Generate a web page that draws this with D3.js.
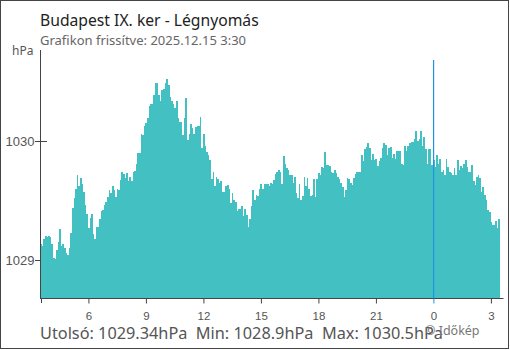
<!DOCTYPE html>
<html>
<head>
<meta charset="utf-8">
<script src="https://cdn.jsdelivr.net/npm/d3@7"></script>
<style>
  body { margin: 0; background: #fff; }
  svg { display: block; font-family: "Noto Sans", "Open Sans", sans-serif; }
</style>
</head>
<body>
<div id="chart"></div>
<script>
var title = 'Budapest IX. ker - Légnyomás';
var subtitle = 'Grafikon frissítve: 2025.12.15 3:30';
var unit = 'hPa';
var startTime = new Date(2025, 11, 14, 3, 30);
var endTime = new Date(2025, 11, 15, 3, 30);
var stepMinutes = 5;
var yTicks = [1029, 1030];
var summary = 'Utolsó: 1029.34hPa  Min: 1028.9hPa  Max: 1030.5hPa';
var credit = '© Időkép';

// légnyomás, 5 percenként
var pressure = [
  1029.13, 1029.12, 1029.18, 1029.20, 1029.19, 1029.20, 1029.19, 1029.13, 1029.02, 1029.01,
  1029.08, 1029.15, 1029.26, 1029.12, 1029.13, 1029.10, 1029.06, 1029.04, 1029.10, 1029.23,
  1029.44, 1029.52, 1029.60, 1029.71, 1029.62, 1029.69, 1029.64, 1029.57, 1029.46, 1029.39,
  1029.27, 1029.35, 1029.39, 1029.22, 1029.18, 1029.28, 1029.28, 1029.34, 1029.41, 1029.42,
  1029.46, 1029.49, 1029.53, 1029.59, 1029.56, 1029.62, 1029.59, 1029.53, 1029.60, 1029.59,
  1029.67, 1029.74, 1029.72, 1029.69, 1029.73, 1029.66, 1029.70, 1029.66, 1029.74, 1029.75,
  1029.81, 1029.90, 1029.90, 1030.06, 1030.05, 1030.13, 1030.15, 1030.19, 1030.29, 1030.31,
  1030.31, 1030.39, 1030.49, 1030.49, 1030.39, 1030.34, 1030.43, 1030.44, 1030.49, 1030.52,
  1030.47, 1030.37, 1030.34, 1030.31, 1030.28, 1030.34, 1030.19, 1030.16, 1030.16, 1030.05,
  1030.19, 1030.36, 1030.01, 1030.06, 1030.14, 1030.11, 1030.06, 1030.12, 1030.13, 1030.13,
  1030.20, 1029.94, 1030.06, 1029.96, 1029.91, 1029.88, 1029.84, 1029.68, 1029.74, 1029.62,
  1029.70, 1029.68, 1029.65, 1029.66, 1029.57, 1029.57, 1029.62, 1029.63, 1029.60, 1029.48,
  1029.56, 1029.50, 1029.49, 1029.41, 1029.43, 1029.43, 1029.45, 1029.37, 1029.43, 1029.38,
  1029.28, 1029.34, 1029.45, 1029.59, 1029.50, 1029.55, 1029.54, 1029.60, 1029.64, 1029.60,
  1029.64, 1029.64, 1029.64, 1029.62, 1029.65, 1029.64, 1029.67, 1029.72, 1029.74, 1029.76,
  1029.74, 1029.64, 1029.87, 1029.81, 1029.77, 1029.76, 1029.71, 1029.71, 1029.65, 1029.70,
  1029.56, 1029.52, 1029.64, 1029.50, 1029.54, 1029.70, 1029.62, 1029.69, 1029.60, 1029.54,
  1029.55, 1029.68, 1029.53, 1029.68, 1029.73, 1029.71, 1029.78, 1029.77, 1029.91, 1029.80,
  1029.80, 1029.79, 1029.74, 1029.73, 1029.76, 1029.73, 1029.70, 1029.68, 1029.65, 1029.61,
  1029.53, 1029.59, 1029.69, 1029.68, 1029.65, 1029.63, 1029.69, 1029.72, 1029.74, 1029.74,
  1029.74, 1029.88, 1029.83, 1029.93, 1029.95, 1029.98, 1029.94, 1029.84, 1029.89, 1029.84,
  1029.85, 1029.79, 1029.83, 1029.86, 1029.94, 1029.98, 1029.97, 1029.88, 1029.94, 1029.95,
  1029.86, 1029.89, 1029.85, 1029.92, 1029.92, 1029.92, 1029.81, 1029.80, 1029.96, 1029.92,
  1029.96, 1029.98, 1029.99, 1029.99, 1030.02, 1030.08, 1030.00, 1030.02, 1030.08, 1029.96,
  1030.03, 1029.93, 1029.81, 1029.93, 1029.93, 1029.80, 1029.84, 1029.78, 1029.88, 1029.81,
  1029.85, 1029.74, 1029.76, 1029.71, 1029.85, 1029.78, 1029.74, 1029.73, 1029.71, 1029.77,
  1029.71, 1029.84, 1029.76, 1029.79, 1029.77, 1029.81, 1029.84, 1029.78, 1029.74, 1029.74,
  1029.80, 1029.66, 1029.63, 1029.70, 1029.71, 1029.69, 1029.57, 1029.61, 1029.55, 1029.50,
  1029.42, 1029.40, 1029.32, 1029.29, 1029.29, 1029.33, 1029.27, 1029.34
];

var W = 510, H = 350;
var plotLeft = 40, plotRight = 500, plotTop = 50, plotBottom = 298;
var barColor = '#42c0c2', axisColor = '#444', textColor = '#555', nowColor = '#1e96e8';

var svg = d3.select('#chart').append('svg')
    .attr('width', W)
    .attr('height', H);

svg.append('rect')
    .attr('x', 0.5).attr('y', 0.5)
    .attr('width', 508).attr('height', 348)
    .attr('fill', '#fff')
    .attr('stroke', '#444');

var x = d3.scaleTime().domain([startTime, endTime]).range([plotLeft, plotRight]);
var y = d3.scaleLinear().domain([1028.68, 1030.765]).range([plotBottom, plotTop]);

var step = stepMinutes * 60000;
var times = pressure.map(function(d, i) { return new Date(startTime.getTime() + i * step); });
var bw = x(new Date(startTime.getTime() + step)) - x(startTime);

// y tickek, a sávok alatt
svg.selectAll('.ytick').data(yTicks).enter().append('line')
    .attr('x1', plotLeft - 5).attr('x2', plotLeft + 7)
    .attr('y1', function(d) { return Math.round(y(d)) + 0.5; })
    .attr('y2', function(d) { return Math.round(y(d)) + 0.5; })
    .attr('stroke', axisColor);

svg.append('g').selectAll('rect')
    .data(pressure)
    .enter()
    .append('rect')
    .attr('x', function(d, i) { return x(times[i]); })
    .attr('width', bw + 0.15)
    .attr('y', function(d) { return y(d); })
    .attr('height', function(d) { return plotBottom - y(d); })
    .attr('fill', barColor)
    .attr('shape-rendering', 'crispEdges');

// éjfél jelző
var midnight = new Date(2025, 11, 15, 0, 0);
svg.append('rect')
    .attr('x', Math.round(x(midnight))).attr('width', 1.2)
    .attr('y', 60).attr('height', plotBottom - 60)
    .attr('fill', nowColor);

var yAxis = d3.axisLeft(y).tickValues(yTicks).tickSize(0).tickPadding(6)
    .tickFormat(d3.format('d'));
var gy = svg.append('g').attr('transform', 'translate(' + (plotLeft + 0.5) + ',0.5)').call(yAxis);
gy.select('.domain').remove();
gy.selectAll('text').attr('fill', textColor).style('font-size', '13px').attr('x', -6);

svg.append('line')
    .attr('x1', plotLeft + 0.5).attr('x2', plotLeft + 0.5)
    .attr('y1', plotTop).attr('y2', plotBottom)
    .attr('stroke', axisColor);

var xTicks = x.ticks(d3.timeHour.every(3));
var xAxis = d3.axisBottom(x).tickValues(xTicks).tickSize(5).tickSizeOuter(0).tickPadding(8)
    .tickFormat(function(d) { return d.getHours(); });
var gx = svg.append('g').attr('transform', 'translate(0.5,' + (plotBottom + 0.5) + ')').call(xAxis);
gx.select('.domain').attr('stroke', axisColor).attr('d', 'M' + (plotLeft - 0.5) + ',0H' + (plotRight + 3));
gx.selectAll('.tick line').attr('stroke', function(d) { return d.getHours() === 0 ? nowColor : axisColor; });
gx.selectAll('text').attr('fill', textColor).style('font-size', '11.5px');
svg.append('line')
    .attr('x1', plotLeft + 1.5).attr('x2', plotLeft + 1.5)
    .attr('y1', plotBottom).attr('y2', plotBottom + 5)
    .attr('stroke', axisColor);

svg.append('text').attr('x', 12).attr('y', 55)
    .attr('fill', textColor).style('font-size', '12px').text(unit);

svg.append('text').attr('x', 40).attr('y', 26)
    .attr('fill', '#222').style('font-size', '15.7px').text(title);
svg.append('text').attr('x', 40).attr('y', 45)
    .attr('fill', '#666').style('font-size', '13px').text(subtitle);

svg.append('text').attr('x', 40).attr('y', 339)
    .attr('fill', textColor).style('font-size', '16.3px')
    .attr('xml:space', 'preserve').style('white-space', 'pre').text(summary);
svg.append('text').attr('x', 425).attr('y', 335)
    .attr('fill', '#777').style('font-size', '12.5px').text(credit);
</script>
</body>
</html>
